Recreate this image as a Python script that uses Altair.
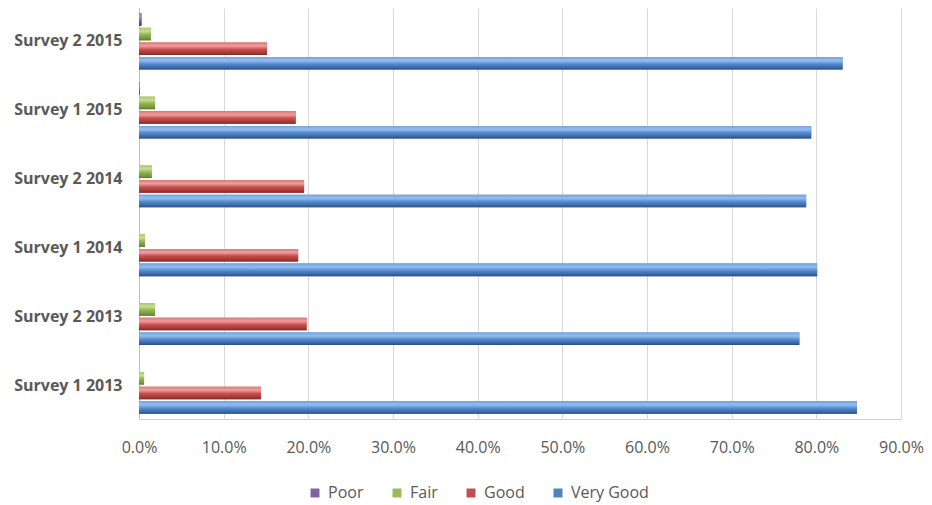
import altair as alt
import pandas as pd

surveys = ["Survey 2 2015", "Survey 1 2015", "Survey 2 2014", "Survey 1 2014", "Survey 2 2013", "Survey 1 2013"]
ratings = ["Poor", "Fair", "Good", "Very Good"]
poor = [0.003, 0.001, 0.0, 0.0, 0.0, 0.0]
fair = [0.014, 0.019, 0.015, 0.007, 0.019, 0.006]
good = [0.151, 0.185, 0.195, 0.188, 0.198, 0.144]
very_good = [0.831, 0.794, 0.788, 0.801, 0.780, 0.848]
colors = ["#8064A2", "#9BBB59", "#C0504D", "#4F81BD"]
gradient_stops = {
    "Poor": ["#9478BA", "#AC96CE", "#8064A2", "#5E477D", "#463463"],
    "Fair": ["#A9CA6A", "#C4E092", "#93B450", "#76963A", "#5A762A"],
    "Good": ["#DC7A78", "#EE9E9C", "#C9504D", "#A03936", "#7A2826"],
    "Very Good": ["#72A3E0", "#95BDEE", "#558BD2", "#3B66A3", "#2C4E7C"],
}
stop_offsets = [0.0, 0.28, 0.55, 0.85, 1.0]

rows = []
for i, s in enumerate(surveys):
    for r, vals in zip(ratings, [poor, fair, good, very_good]):
        rows.append({"Survey": s, "Rating": r, "Value": vals[i]})
df = pd.DataFrame(rows)

font = "Open Sans"

y = alt.Y("Survey:N", sort=surveys, title=None,
          scale=alt.Scale(domain=surveys, paddingInner=0.15, paddingOuter=0.06),
          axis=alt.Axis(ticks=False, domain=True, domainColor="#BFBFBF", labelFontWeight="bold",
                        labelColor="#595959", labelFontSize=16, labelFont=font, labelPadding=17))
x = alt.X("Value:Q", title=None,
          scale=alt.Scale(domain=[0, 0.9], nice=False),
          axis=alt.Axis(format=".1%", values=[i / 10 for i in range(10)], ticks=False, labelFlush=False,
                        domainColor="#CFCFCF", gridColor="#D9D9D9", labelColor="#595959",
                        labelFontSize=16, labelFont=font, labelPadding=20))
yoff = alt.YOffset("Rating:N", sort=ratings,
                   scale=alt.Scale(domain=ratings, paddingInner=0.14, paddingOuter=0.07))

base = alt.Chart(df).encode(y=y, x=x, yOffset=yoff)

bars = base.mark_bar(strokeWidth=0).encode(
    color=alt.Color("Rating:N", sort=ratings, scale=alt.Scale(domain=ratings, range=colors),
                    legend=alt.Legend(title=None, orient="none", direction="horizontal",
                                      legendX=168, legendY=477, symbolType="square", symbolSize=80,
                                      symbolStrokeWidth=0, labelFont=font, labelFontSize=16,
                                      labelColor="#595959", columnPadding=25, labelOffset=5))
)

layers = [bars]
for r in ratings:
    grad = alt.LinearGradient(
        gradient="linear", x1=0, x2=0, y1=0, y2=1,
        stops=[alt.GradientStop(color=c, offset=o) for c, o in zip(gradient_stops[r], stop_offsets)],
    )
    layers.append(
        base.transform_filter(alt.datum.Rating == r).mark_bar(fill=grad, strokeWidth=0)
    )

chart = alt.layer(*layers).properties(
    width=762, height=411,
    padding={"left": 131, "top": 0, "right": 23, "bottom": 86},
    autosize=alt.AutoSizeParams(type="none"),
).configure_view(stroke=None)

chart.save("out.html", embed_options={"renderer": "svg", "actions": False})
